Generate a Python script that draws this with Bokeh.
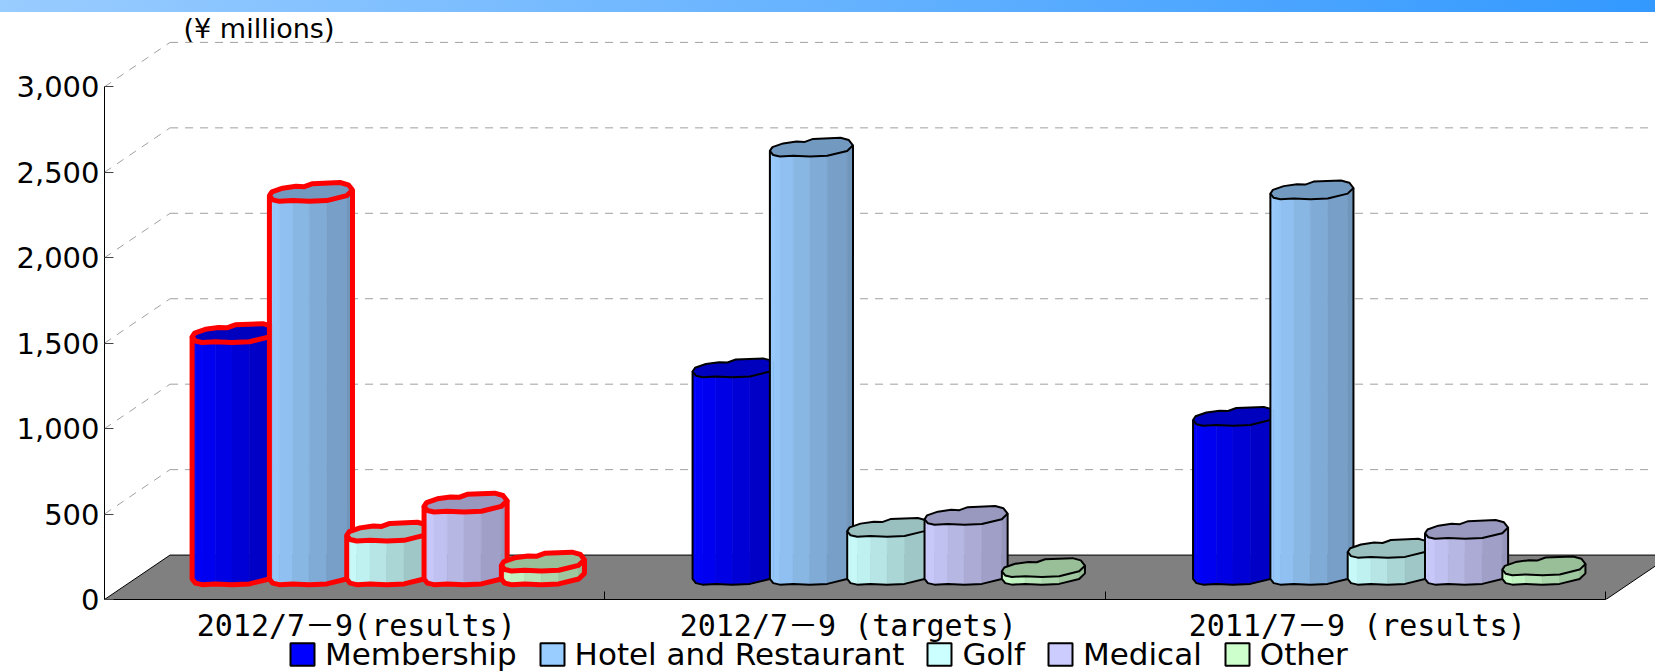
from bokeh.embed import file_html
from bokeh.resources import INLINE
from bokeh.plotting import figure
from bokeh.layouts import column
from bokeh.models import (Div, FixedTicker, Label, Legend, LegendItem, LinearAxis,
                          NumeralTickFormatter, Range1d)

# ---- data -----------------------------------------------------------------
periods = ["2012/7－9(results)", "2012/7－9 (targets)", "2011/7－9 (results)"]
series = ["Membership", "Hotel and Restaurant", "Golf", "Medical", "Other"]
membership = [1417, 1214, 930]
hotel = [2243, 2505, 2255]
golf = [255, 280, 158]
medical = [425, 350, 268]
other = [80, 45, 55]
y_ticks = [0, 500, 1000, 1500, 2000, 2500, 3000]
unit_label = "(¥ millions)"

# ---- styling / construction constants -------------------------------------
all_values = [membership, hotel, golf, medical, other]
colors = ["#0000FF", "#99CCFF", "#CCFFFF", "#CCCCFF", "#CCFFCC"]
outline = ["#FF0000", "#000000", "#000000"]
outline_w = [5, 2, 2]
X_MAX, Y_MAX = 3.099, 3435
DX, DY = 0.131, 260            # oblique depth of the floor and walls
FIRST, STEP, BAR_W = 0.175, 0.1545, 0.166   # bar placement within a group
BASE, D_H = 87, 110            # footprint of a column, in value units
TOP_U = [0, .03, .16, .32, .42, .52, .85, .95, 1]
TOP_V = [.7, .5, .3, .2, .22, .06, 0, .12, .4]
LOW_U = [0, .04, .12, .28, .48, .69, .93, 1]
LOW_V = [.7, .92, 1, .96, 1, .96, .7, .4]
LABEL_AT = [0.503, 1.486, 2.503]   # label centres along the floor edge


def shade(c, f):
    r, g, b = int(c[1:3], 16), int(c[3:5], 16), int(c[5:7], 16)
    return "#%02X%02X%02X" % (int(r * f), int(g * f), int(b * f))


def foot_y(v):
    return BASE + D_H * (1 - v)


p = figure(width=1655, height=631, frame_width=1551, frame_height=587,
           x_range=Range1d(0, X_MAX), y_range=Range1d(0, Y_MAX),
           output_backend="svg", toolbar_location=None, x_axis_type=None, y_axis_type=None,
           min_border_left=104, min_border_right=0, min_border_top=0, min_border_bottom=0,
           border_fill_color=None)
p.outline_line_color = None
p.grid.visible = False

# ---- axes ------------------------------------------------------------------
yaxis = LinearAxis(ticker=FixedTicker(ticks=y_ticks), bounds=(0, 3000),
                   formatter=NumeralTickFormatter(format="0,0"),
                   major_tick_in=9, major_tick_out=0, minor_tick_in=0, minor_tick_out=0,
                   axis_line_color="#000000", major_tick_line_color="#444444",
                   major_label_text_font="DejaVu Sans", major_label_text_font_size="29px",
                   major_label_text_color="#000000", major_label_standoff=5)
p.add_layout(yaxis, "left")

xaxis = LinearAxis(ticker=FixedTicker(ticks=LABEL_AT, minor_ticks=[1, 2, 3]), bounds=(0, 3),
                   major_label_overrides=dict(zip(LABEL_AT, periods)),
                   major_tick_line_color=None, major_tick_in=0, major_tick_out=0,
                   minor_tick_in=8, minor_tick_out=0, minor_tick_line_color="#000000",
                   axis_line_color="#000000",
                   major_label_text_font="'DejaVu Sans Mono','Noto Sans CJK JP'",
                   major_label_text_font_size="30px",
                   major_label_text_color="#000000", major_label_standoff=8)
p.add_layout(xaxis, "below")

# ---- walls and floor -------------------------------------------------------
grid_ticks = [t for t in y_ticks if t > 0]
p.segment(x0=[DX] * len(grid_ticks), x1=[X_MAX] * len(grid_ticks),
          y0=[t + DY for t in grid_ticks], y1=[t + DY for t in grid_ticks],
          line_color="#A0A0A0", line_width=1, line_dash="8 7")
p.segment(x0=[0] * len(grid_ticks), x1=[DX] * len(grid_ticks),
          y0=grid_ticks, y1=[t + DY for t in grid_ticks],
          line_color="#A0A0A0", line_width=1, line_dash="8 7")
p.patch(x=[0, 3, 3 + DX, DX], y=[0, 0, DY, DY], fill_color="#808080", line_color="#000000", line_width=1)

# ---- columns ---------------------------------------------------------------
for s, vals in enumerate(all_values):
    base_color = colors[s]
    sx, sy, sc = [], [], []
    tx, ty, ec, ew = [], [], [], []
    ox, oy = [], []
    for g, val in enumerate(vals):
        x0 = g + FIRST + s * STEP
        px_ = [x0 + u * BAR_W for u in LOW_U]
        by = [foot_y(v) for v in LOW_V]
        for i in range(len(LOW_U) - 1):
            sx.append([px_[i], px_[i + 1], px_[i + 1], px_[i]])
            sy.append([by[i], by[i + 1], by[i + 1] + val, by[i] + val])
            sc.append(shade(base_color, 1 - 0.27 * (LOW_U[i] + LOW_U[i + 1]) / 2))
        ox.append([px_[0]] + px_ + [px_[-1]])
        oy.append([by[0] + val] + by + [by[-1] + val])
        tx.append([x0 + u * BAR_W for u in TOP_U] + px_[::-1])
        ty.append([foot_y(v) + val for v in TOP_V] + [b + val for b in by[::-1]])
        ec.append(outline[g])
        ew.append(outline_w[g])
    p.patches(sx, sy, fill_color=sc, line_color=sc, line_width=0.6)
    p.multi_line(ox, oy, line_color=ec, line_width=ew, line_join="round")
    p.patches(tx, ty, fill_color=shade(base_color, 0.75), line_color=ec, line_width=ew, line_join="round")

p.add_layout(Label(x=0.158, y=3344, text=unit_label, text_font="DejaVu Sans", text_font_size="27px",
                   text_color="#000000", text_baseline="middle"))

# ---- legend strip ----------------------------------------------------------
lf = figure(width=1655, height=41, x_range=Range1d(0, 1), y_range=Range1d(0, 1),
            output_backend="svg", toolbar_location=None, x_axis_type=None, y_axis_type=None,
            min_border=0, outline_line_color=None, border_fill_color=None,
            background_fill_color=None, margin=(-12, 0, 0, 0))
lf.grid.visible = False
legend_items = []
for s, name in enumerate(series):
    # the swatch's own rectangle lies outside the strip's ranges; only the legend shows it
    swatch = lf.quad(left=[2], right=[2], top=[2], bottom=[2], fill_color=colors[s],
                     line_color="#000000", line_width=2)
    legend_items.append(LegendItem(label=name, renderers=[swatch]))
legend = Legend(items=legend_items, orientation="horizontal", location=(183, 2),
                border_line_color=None, background_fill_color=None,
                label_text_font="DejaVu Sans", label_text_font_size="31px",
                label_text_color="#000000", glyph_width=30, glyph_height=28,
                label_standoff=8, spacing=20, padding=0, margin=0,
                label_height=28, label_text_baseline="middle")
lf.add_layout(legend, "center")

band = Div(width=1655, height=12, text="", margin=(0, 0, 0, 0),
           styles={"background": "linear-gradient(to right, #99CCFF, #3399FF)"})
page = column(band, p, lf, spacing=0)

html = file_html(page, INLINE).replace("<body>", '<body style="margin:0">')
open("out.html", "w").write(html)
